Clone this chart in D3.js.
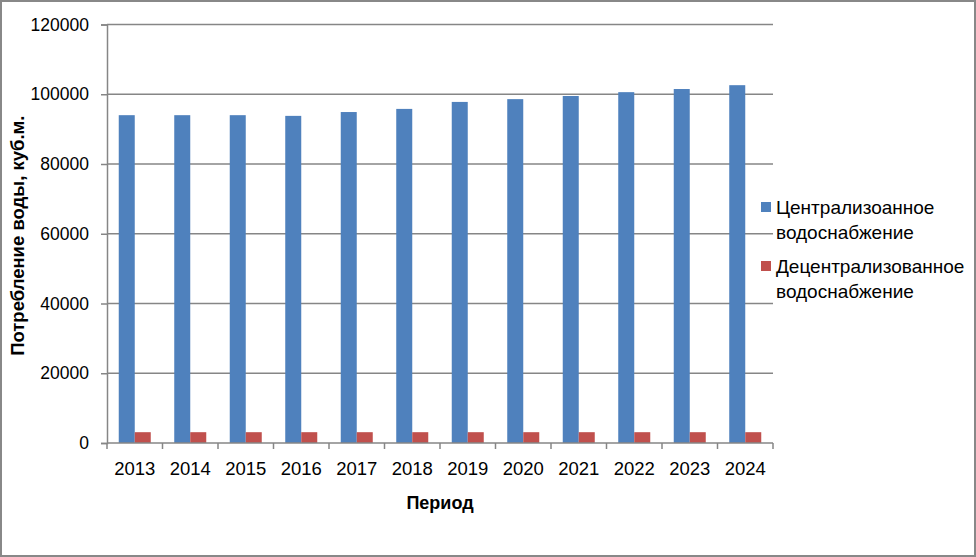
<!DOCTYPE html>
<html>
<head>
<meta charset="utf-8">
<script src="https://cdn.jsdelivr.net/npm/d3@7"></script>
<style>
  html, body { margin: 0; padding: 0; background: #fff; }
  svg { display: block; }
  text { font-family: "Liberation Sans", Arial, sans-serif; fill: #000; }
</style>
</head>
<body>
<svg id="chart" width="976" height="557"></svg>
<script>
const categories = ["2013","2014","2015","2016","2017","2018","2019","2020","2021","2022","2023","2024"];
const seriesNames = ["Централизоанное водоснабжение", "Децентрализованное водоснабжение"];
const centralized = [94000, 94000, 94000, 93800, 94900, 95800, 97800, 98600, 99500, 100600, 101500, 102600];
const decentralized = [3100, 3100, 3100, 3100, 3100, 3100, 3100, 3100, 3100, 3100, 3100, 3100];
const yTicks = [0, 20000, 40000, 60000, 80000, 100000, 120000];
const legendLines = [["Централизоанное", "водоснабжение"], ["Децентрализованное", "водоснабжение"]];
const colors = ["#4F81BD", "#C0504D"];
const yTitle = "Потребление воды, куб.м.";
const xTitle = "Период";

const svg = d3.select("#chart");
const W = 976, H = 557;
const plot = { left: 107, right: 773, top: 24.5, bottom: 443 };
const gridColor = "#868686";

// outer border
svg.append("rect").attr("x", 1).attr("y", 1).attr("width", W - 2).attr("height", H - 2)
  .attr("fill", "#fff").attr("stroke", "#888").attr("stroke-width", 2);

const x = d3.scaleBand().domain(categories).range([plot.left, plot.right]).padding(0);
const xSub = d3.scaleBand().domain([0, 1]).range([0, x.bandwidth()]).paddingInner(0).paddingOuter(0.734);
const y = d3.scaleLinear().domain([0, 120000]).range([plot.bottom, plot.top]);

// gridlines
svg.append("g").selectAll("line").data(yTicks.filter(d => d > 0)).join("line")
  .attr("x1", plot.left).attr("x2", plot.right)
  .attr("y1", d => y(d)).attr("y2", d => y(d))
  .attr("stroke", gridColor).attr("stroke-width", 1.5);

// bars
const data = categories.map((c, i) => ({ c, vals: [centralized[i], decentralized[i]] }));
const groups = svg.append("g").selectAll("g").data(data).join("g")
  .attr("transform", d => `translate(${x(d.c)},0)`);
groups.selectAll("rect").data(d => d.vals.map((v, k) => ({ v, k }))).join("rect")
  .attr("x", d => xSub(d.k))
  .attr("width", xSub.bandwidth())
  .attr("y", d => y(d.v))
  .attr("height", d => y(0) - y(d.v))
  .attr("fill", d => colors[d.k]);

// y axis
const yAxis = d3.axisLeft(y).tickValues(yTicks).tickSize(6).tickPadding(12).tickFormat(d3.format("d"));
const yg = svg.append("g").attr("transform", `translate(${plot.left},0)`).call(yAxis);
yg.select(".domain").attr("stroke", gridColor).attr("stroke-width", 1.5);
yg.selectAll(".tick line").attr("stroke", gridColor).attr("stroke-width", 1.5);
yg.selectAll(".tick text").attr("font-size", 17.5).attr("font-family", "Liberation Sans, Arial, sans-serif").attr("fill", "#000");

// x axis (ticks at category boundaries)
const xg = svg.append("g").attr("transform", `translate(0,${plot.bottom})`);
xg.append("line").attr("x1", plot.left).attr("x2", plot.right).attr("y1", 0).attr("y2", 0)
  .attr("stroke", gridColor).attr("stroke-width", 1.5);
const bounds = categories.map(c => x(c)).concat([plot.right]);
xg.selectAll("line.tk").data(bounds).join("line").attr("class", "tk")
  .attr("x1", d => d).attr("x2", d => d).attr("y1", 0).attr("y2", 6)
  .attr("stroke", gridColor).attr("stroke-width", 1.5);
xg.selectAll("text").data(categories).join("text")
  .attr("x", d => x(d) + x.bandwidth() / 2).attr("y", 32)
  .attr("text-anchor", "middle").attr("font-size", 18.5).text(d => d);

// axis titles
svg.append("text").attr("x", (plot.left + plot.right) / 2).attr("y", 509)
  .attr("text-anchor", "middle").attr("font-size", 18).attr("font-weight", "bold").text(xTitle);
svg.append("text").attr("transform", `translate(24,${(plot.top + plot.bottom) / 2 + 2}) rotate(-90)`)
  .attr("text-anchor", "middle").attr("font-size", 18.5).attr("font-weight", "bold").text(yTitle);

// legend
const legend = svg.append("g");
const legY = [202, 261];
legendLines.forEach((lines, i) => {
  legend.append("rect").attr("x", 761).attr("y", legY[i]).attr("width", 10).attr("height", 10).attr("fill", colors[i]);
  const t = legend.append("text").attr("x", 776).attr("y", legY[i] + 12).attr("font-size", 19);
  lines.forEach((ln, j) => {
    t.append("tspan").attr("x", 776).attr("dy", j === 0 ? 0 : 24.5).text(ln);
  });
});
</script>
</body>
</html>
